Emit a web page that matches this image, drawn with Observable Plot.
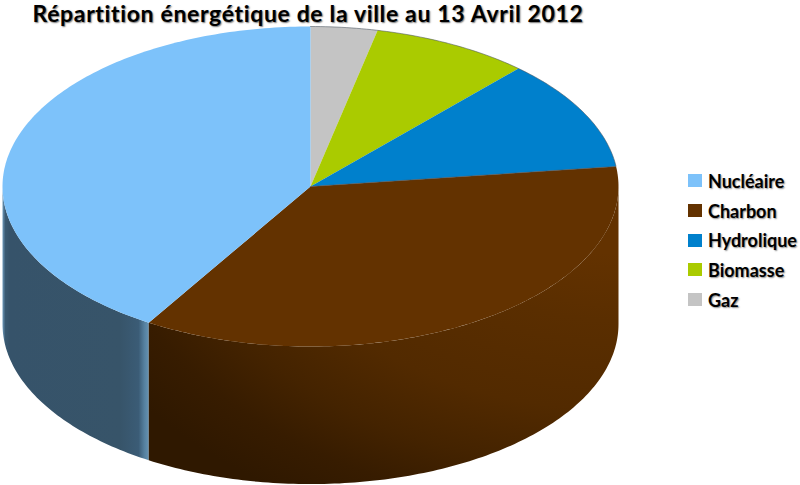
<!DOCTYPE html>
<html lang="fr">
<head>
<meta charset="utf-8">
<script src="https://cdn.jsdelivr.net/npm/d3@7"></script>
<script src="https://cdn.jsdelivr.net/npm/@observablehq/plot@0.6"></script>
<style>
  html, body { margin: 0; padding: 0; background: #fff; }
  body { width: 800px; height: 485px; overflow: hidden; position: relative; font-family: Lato, sans-serif; color: #000; }
  #title { height: 24px; width: 616px; text-align: center; font-size: 23px; letter-spacing: 0.65px; font-weight: 700; line-height: 27px; white-space: nowrap; text-shadow: 1px 1px 1.5px rgba(0,0,0,.55); position: relative; z-index: 1; }
  #chart svg { display: block; background: transparent; }
  #legend { position: absolute; left: 688px; top: 166px; }
  .row { height: 29.7px; display: flex; align-items: center; font-size: 18px; font-weight: 700; white-space: nowrap; text-shadow: 1px 1px 1.5px rgba(0,0,0,.45); }
  .sw { width: 14px; height: 13px; margin-right: 6px; flex: none; }
</style>
</head>
<body>
<div id="title"></div>
<div id="chart"></div>
<div id="legend"></div>
<script>
const chartTitle = "Répartition énergétique de la ville au 13 Avril 2012";
const categories = ["Nucléaire", "Charbon", "Hydrolique", "Biomasse", "Gaz"];
const shares = [41.2, 35.8, 11.2, 8.3, 3.5];
const colors = ["#7dc2fa", "#633200", "#0080cc", "#aacb00", "#c4c4c4"];
const thickness = 0.86; // pie height, in radii of the top face

// Walk clockwise from 12 o'clock: Gaz first, Nucléaire last.
const total = d3.sum(shares);
const order = categories.map((c, i) => i).reverse();
let acc = 0;
const slices = order.map(i => {
  const a0 = acc / total * 2 * Math.PI;
  acc += shares[i];
  return {name: categories[i], a0, a1: acc / total * 2 * Math.PI};
});
const arc = (a0, a1, dy = 0) => {
  const n = Math.max(2, Math.ceil((a1 - a0) * 60));
  return d3.range(n + 1).map(k => {
    const a = a0 + (a1 - a0) * k / n;
    return {x: Math.sin(a), y: Math.cos(a) + dy};
  });
};
const topFaces = slices.flatMap(s =>
  [{x: 0, y: 0}, ...arc(s.a0, s.a1), {x: 0, y: 0}].map(p => ({...p, name: s.name})));
const wall = (a0, a1) => [...arc(a0, a1), ...arc(a0, a1, -thickness).reverse()];
const byName = Object.fromEntries(slices.map(s => [s.name, s]));
const wallCharbon = wall(Math.PI / 2, byName["Charbon"].a1);
const wallNucleaire = wall(byName["Nucléaire"].a0, 3 * Math.PI / 2);
const rim = [...arc(0, byName["Hydrolique"].a1), {x: 0, y: 0}];

const defs = () => {
  const d = d3.create("svg:defs");
  const blue = d.append("linearGradient").attr("id", "wallBlue");
  [[0, "#6b97b8"], [0.02, "#3a5a72"], [0.05, "#36536a"], [0.8, "#375469"], [0.93, "#3b5c76"], [0.97, "#55809f"], [1, "#6593b3"]]
    .forEach(([o, c]) => blue.append("stop").attr("offset", o).attr("stop-color", c));
  const brown = d.append("radialGradient").attr("id", "wallBrown")
    .attr("cx", 1).attr("cy", 0).attr("r", 1.25);
  [[0.18, "#633200"], [0.36, "#5a2e00"], [0.6, "#522a00"], [0.76, "#442300"], [0.88, "#371c00"], [1, "#2f1800"]]
    .forEach(([o, c]) => brown.append("stop").attr("offset", o).attr("stop-color", c));
  return d.node();
};

document.getElementById("title").textContent = chartTitle;

const chart = Plot.plot({
  width: 640,
  height: 461,
  margin: 0,
  x: {axis: null, domain: [-1, 1], range: [2, 618]},
  y: {axis: null, domain: [-1, 1], range: [322, 2]},
  color: {domain: categories, range: colors},
  marks: [
    defs,
    Plot.line(wallNucleaire, {x: "x", y: "y", fill: "url(#wallBlue)", stroke: "none"}),
    Plot.line(wallCharbon, {x: "x", y: "y", fill: "url(#wallBrown)", stroke: "none"}),
    Plot.line(topFaces, {x: "x", y: "y", z: "name", fill: "name", stroke: "none"}),
    Plot.line(rim, {x: "x", y: "y", stroke: "#4a5560", strokeWidth: 0.7, strokeOpacity: 0.8})
  ]
});
document.getElementById("chart").append(chart);

const rows = d3.select("#legend").selectAll("div").data(categories).join("div").attr("class", "row");
rows.append("span").attr("class", "sw").style("background", (d, i) => colors[i]);
rows.append("span").text(d => d);
</script>
</body>
</html>
